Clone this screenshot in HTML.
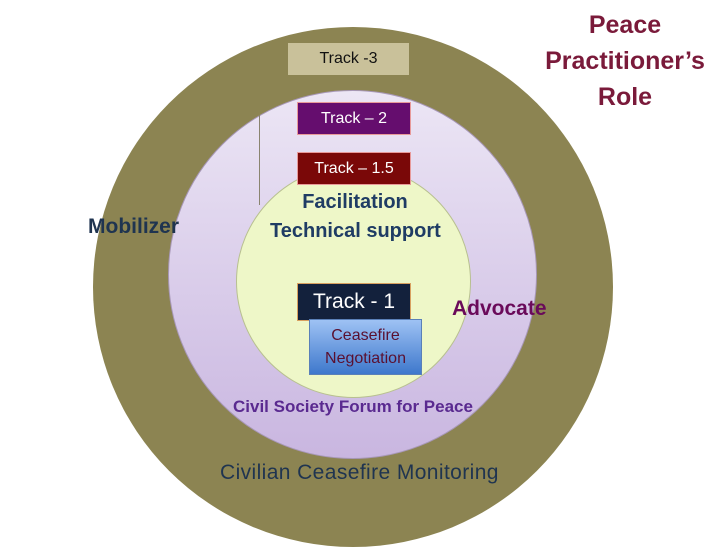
<!DOCTYPE html>
<html><head><meta charset="utf-8"><style>
body{margin:0;width:720px;height:540px;overflow:hidden;background:#fff;font-family:"Liberation Sans",sans-serif;position:relative}
.c{position:absolute;border-radius:50%}
.b{position:absolute;display:flex;align-items:center;justify-content:center;box-sizing:border-box}
.t{position:absolute;font-weight:bold;white-space:nowrap}
</style></head><body>
<div class="c" style="left:93px;top:27px;width:520px;height:520px;background:#8c8452"></div>
<div class="c" style="left:168px;top:90px;width:369px;height:369px;background:linear-gradient(#ece6f5,#c9b6e0);border:1px solid #a898b8;box-sizing:border-box"></div>
<div class="c" style="left:236px;top:165px;width:235px;height:233px;background:#eef7c8;border:1px solid #b8c090;box-sizing:border-box"></div>
<div style="position:absolute;left:259px;top:115px;width:1px;height:90px;background:#8a8470"></div>
<div class="b" style="left:288px;top:43px;width:121px;height:32px;background:#c9c19a;color:#111;font-size:16px">Track -3</div>
<div class="b" style="left:297px;top:102px;width:114px;height:33px;background:#650d6e;border:1px solid #e89a9a;color:#fff;font-size:16px">Track – 2</div>
<div class="b" style="left:297px;top:152px;width:114px;height:33px;background:#7a0808;border:1px solid #e89a9a;color:#fff;font-size:16px">Track – 1.5</div>
<div class="t" style="left:270px;top:188px;width:170px;text-align:center;color:#1f3c64;font-size:20px;line-height:29px">Facilitation<br>Technical support</div>
<div class="b" style="left:297px;top:283px;width:114px;height:38px;background:#13213c;border:1px solid #d8a060;color:#fff;font-size:21px">Track - 1</div>
<div class="b" style="left:309px;top:319px;width:113px;height:56px;background:linear-gradient(#9ec2f4,#3e78cc);border:1px solid #5a80b8;color:#5a1030;font-size:16px;line-height:23px;text-align:center">Ceasefire<br>Negotiation</div>
<div class="t" style="left:452px;top:297px;color:#6a0a5a;font-size:21px">Advocate</div>
<div class="t" style="left:88px;top:215px;color:#1f3450;font-size:21px">Mobilizer</div>
<div class="t" style="left:233px;top:397px;color:#5a2a90;font-size:17px">Civil Society Forum for Peace</div>
<div class="t" style="left:220px;top:461px;color:#1f3450;font-size:21px;font-weight:normal;letter-spacing:0.4px">Civilian Ceasefire Monitoring</div>
<div class="t" style="left:535px;top:7px;width:180px;text-align:center;color:#7a1a3a;font-size:25px;line-height:36px">Peace<br>Practitioner’s<br>Role</div>
</body></html>
